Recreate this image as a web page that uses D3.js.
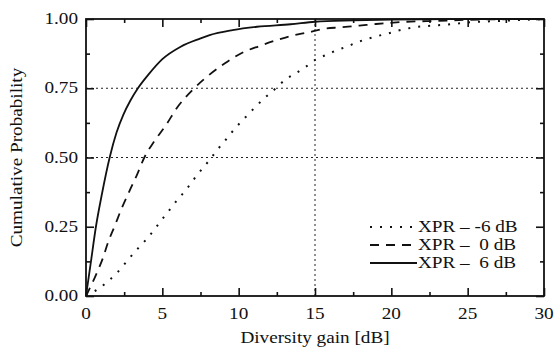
<!DOCTYPE html>
<html><head><meta charset="utf-8">
<script src="https://cdn.jsdelivr.net/npm/d3@7"></script>
<style>html,body{margin:0;padding:0;background:#fff}svg{display:block}text{font-family:"Liberation Serif","Times New Roman",serif;fill:#111;white-space:pre}</style>
</head><body><svg id="c" width="555" height="349"></svg>
<script>
// ---- data ----
const xTicks = [0, 5, 10, 15, 20, 25, 30];
const yTicks = [0, 0.25, 0.5, 0.75, 1.0];
const yTickLabels = ["0.00", "0.25", "0.50", "0.75", "1.00"];
const gridY = [0.5, 0.75];
const gridX = [15];

const xpr6X = [0, 0.3, 0.65, 1.05, 1.55, 2.0, 2.45, 2.9, 3.4, 4.1, 5.0, 6.2, 7.5, 8.1, 9.6, 11.2, 13.4, 15, 17.5, 20, 25, 30];
const xpr6Y = [0, 0.115, 0.25, 0.37, 0.5, 0.59, 0.655, 0.705, 0.75, 0.80, 0.855, 0.90, 0.93, 0.942, 0.96, 0.972, 0.981, 0.99, 0.995, 0.998, 1, 1];

const xpr0X = [0, 0.7, 1.1, 1.46, 1.86, 2.34, 2.88, 3.36, 3.82, 4.45, 5.24, 5.94, 7.0, 8.0, 9.1, 10.3, 11.4, 12.5, 13.5, 14.6, 15.5, 16.7, 17.9, 19.0, 21.0, 23.0, 25, 27, 30];
const xpr0Y = [0, 0.082, 0.136, 0.196, 0.25, 0.317, 0.383, 0.44, 0.50, 0.557, 0.617, 0.678, 0.745, 0.795, 0.84, 0.88, 0.903, 0.924, 0.94, 0.952, 0.964, 0.97, 0.976, 0.982, 0.99, 0.993, 0.997, 0.999, 1];

const xprm6X = [0, 0.65, 1.35, 2.05, 2.66, 3.21, 3.82, 4.41, 4.95, 5.46, 5.98, 6.55, 7.03, 7.58, 8.12, 8.62, 9.17, 9.76, 10.37, 11.07, 11.72, 12.38, 13.03, 13.75, 14.41, 15.0, 15.72, 16.37, 17.07, 17.72, 18.38, 19.14, 19.8, 20.45, 21.1, 21.76, 22.4, 24.05, 24.93, 27.1, 30];
const xprm6Y = [0, 0.02, 0.049, 0.085, 0.124, 0.16, 0.196, 0.235, 0.274, 0.31, 0.347, 0.383, 0.419, 0.457, 0.493, 0.529, 0.565, 0.605, 0.641, 0.681, 0.716, 0.747, 0.78, 0.804, 0.828, 0.852, 0.87, 0.886, 0.90, 0.915, 0.927, 0.939, 0.948, 0.958, 0.966, 0.972, 0.975, 0.982, 0.987, 0.993, 1.0];

const seriesNames = ["XPR \u2013 -6 dB", "XPR \u2013  0 dB", "XPR \u2013  6 dB"];
const seriesDash = ["2,8", "9,7", null];

// ---- layout ----
const L = 86, R = 544, T = 19, B = 296;
const SX = 1.2, FS = 16;
const svg = d3.select("#c");
svg.append("rect").attr("width", 555).attr("height", 349).attr("fill", "#fff");
const x = d3.scaleLinear().domain([0, 30]).range([L, R]);
const y = d3.scaleLinear().domain([0, 1]).range([B, T]);

function stext(px, py, str, anchor, rot) {
  const g = svg.append("g").attr("transform", `translate(${px},${py})` + (rot ? ` rotate(${rot})` : "") + ` scale(${SX},1)`);
  return g.append("text").attr("text-anchor", anchor).attr("font-size", FS).text(str);
}

// grid
const grid = svg.append("g").attr("stroke", "#222").attr("stroke-width", 1).attr("stroke-dasharray", "2,3");
gridY.forEach(v => grid.append("line").attr("x1", L).attr("x2", R).attr("y1", y(v)).attr("y2", y(v)));
gridX.forEach(v => grid.append("line").attr("x1", x(v)).attr("x2", x(v)).attr("y1", T).attr("y2", B));

// axes with inward ticks
const minorX = d3.range(0, 30.01, 2.5);
const minorY = d3.range(0, 1.001, 0.125);
function isMajor(v, step) { return Math.abs(v / step - Math.round(v / step)) < 1e-6; }
const axB = d3.axisBottom(x).tickValues(minorX).tickSize(-4).tickFormat("");
const axT = d3.axisTop(x).tickValues(minorX).tickSize(-4).tickFormat("");
const axL = d3.axisLeft(y).tickValues(minorY).tickSize(-4).tickFormat("");
const axR = d3.axisRight(y).tickValues(minorY).tickSize(-4).tickFormat("");
function styleAxis(g, step, horizontal, sign) {
  g.select(".domain").remove();
  g.selectAll(".tick line").attr("stroke", "#111").attr("stroke-width", 1.6)
    .each(function(d) {
      if (isMajor(d, step)) d3.select(this).attr(horizontal ? "y2" : "x2", sign * 8);
    });
}
svg.append("g").attr("transform", `translate(0,${B})`).call(axB).call(g => styleAxis(g, 5, true, -1));
svg.append("g").attr("transform", `translate(0,${T})`).call(axT).call(g => styleAxis(g, 5, true, 1));
svg.append("g").attr("transform", `translate(${L},0)`).call(axL).call(g => styleAxis(g, 0.25, false, 1));
svg.append("g").attr("transform", `translate(${R},0)`).call(axR).call(g => styleAxis(g, 0.25, false, -1));

// curves
const line = d3.line().x(d => x(d[0])).y(d => y(d[1])).curve(d3.curveMonotoneX);
const series = [
  d3.zip(xprm6X, xprm6Y),
  d3.zip(xpr0X, xpr0Y),
  d3.zip(xpr6X, xpr6Y)
];
series.forEach((s, i) => {
  svg.append("path").attr("d", line(s)).attr("fill", "none").attr("stroke", "#111")
    .attr("stroke-width", i === 0 ? 2 : 1.8)
    .attr("stroke-dasharray", seriesDash[i]);
});

// frame
svg.append("rect").attr("x", L).attr("y", T).attr("width", R - L).attr("height", B - T)
  .attr("fill", "none").attr("stroke", "#111").attr("stroke-width", 1.8);

// tick labels
xTicks.forEach(v => stext(x(v), 319, String(v), "middle"));
yTicks.forEach((v, i) => stext(78, y(v) + 5, yTickLabels[i], "end"));

// axis titles
stext((L + R) / 2, 343, "Diversity gain [dB]", "middle");
stext(22, (T + B) / 2, "Cumulative Probability", "middle", -90);

// legend
const legY = [227, 245, 263];
series.forEach((s, i) => {
  svg.append("line").attr("x1", 370).attr("x2", 417).attr("y1", legY[i]).attr("y2", legY[i])
    .attr("stroke", "#111").attr("stroke-width", 1.8).attr("stroke-dasharray", seriesDash[i]);
  stext(418, legY[i] + 5, seriesNames[i], "start");
});
</script></body></html>
